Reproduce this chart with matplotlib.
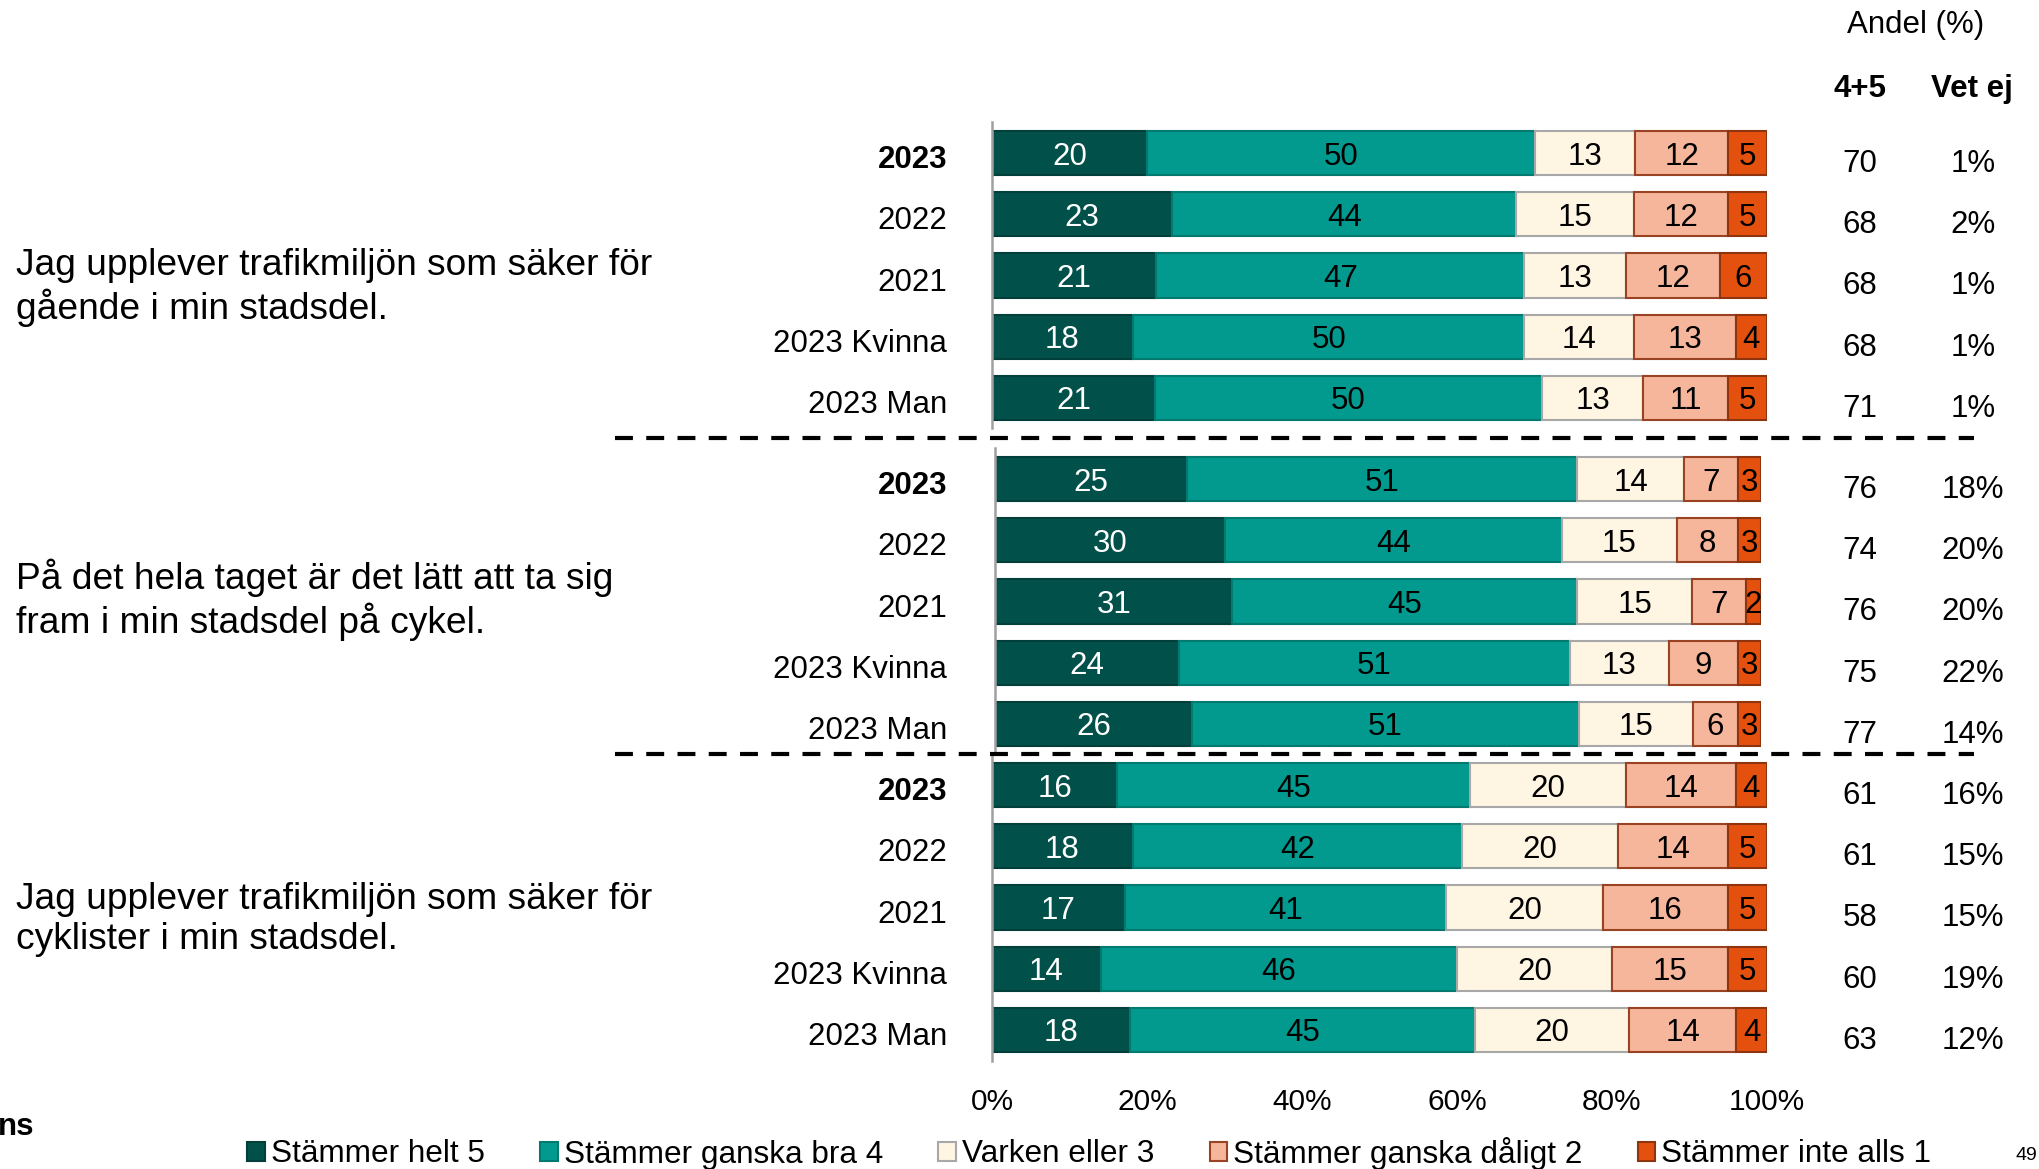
import numpy as np
import matplotlib
matplotlib.use("Agg")
import matplotlib.pyplot as plt
from matplotlib.patches import Patch
from matplotlib.lines import Line2D
from matplotlib.transforms import blended_transform_factory

plt.rcParams['font.family'] = ['Liberation Sans', 'DejaVu Sans']

# --- data ---
rows = ["2023", "2022", "2021", "2023 Kvinna", "2023 Man"]
categories = ["Stämmer helt 5", "Stämmer ganska bra 4", "Varken eller 3",
              "Stämmer ganska dåligt 2", "Stämmer inte alls 1"]
questions = ["Jag upplever trafikmiljön som säker för\ngående i min stadsdel.",
             "På det hela taget är det lätt att ta sig\nfram i min stadsdel på cykel.",
             "Jag upplever trafikmiljön som säker för\ncyklister i min stadsdel."]

gaende = [[20, 50, 13, 12, 5],
          [23, 44, 15, 12, 5],
          [21, 47, 13, 12, 6],
          [18, 50, 14, 13, 4],
          [21, 50, 13, 11, 5]]
cykel = [[25, 51, 14, 7, 3],
         [30, 44, 15, 8, 3],
         [31, 45, 15, 7, 2],
         [24, 51, 13, 9, 3],
         [26, 51, 15, 6, 3]]
cyklister = [[16, 45, 20, 14, 4],
             [18, 42, 20, 14, 5],
             [17, 41, 20, 16, 5],
             [14, 46, 20, 15, 5],
             [18, 45, 20, 14, 4]]

andel_45 = [[70, 68, 68, 68, 71],
            [76, 74, 76, 75, 77],
            [61, 61, 58, 60, 63]]
vet_ej = [[1, 2, 1, 1, 1],
          [18, 20, 20, 22, 14],
          [16, 15, 15, 19, 12]]

xticks = [0, 20, 40, 60, 80, 100]

# --- styling ---
FACE = ["#02504A", "#029A8F", "#FEF5E2", "#F6B69B", "#E4510F"]
EDGE = ["#01403A", "#027A70", "#A8A8A8", "#9A4324", "#8E3510"]
TXT = ["white", "black", "black", "black", "black"]
FS = 22.5

W, H = 2039, 1169
fig = plt.figure(figsize=(W / 100, H / 100), dpi=100)

# axes boxes in pixels: (left, right, top, bottom)
boxes = [(992, 1767, 122.5, 428.5),
         (995, 1761, 448.5, 754.5),
         (992, 1767, 754.5, 1060.5)]
q_row = [2.2, 1.97, 2.2]     # vertical position of each question text (in rows)
data = [gaende, cykel, cyklister]

for k, (sec, box) in enumerate(zip(data, boxes)):
    l, r, t, b = box
    ax = fig.add_axes([l / W, 1 - b / H, (r - l) / W, (b - t) / H])
    vals = np.array(sec, dtype=float)
    widths = vals / vals.sum(axis=1, keepdims=True) * 100   # bars are normalised to 100 %
    left = np.zeros(len(rows))
    y = np.arange(len(rows))
    for j in range(len(categories)):
        ax.barh(y, widths[:, j], left=left, height=0.72, color=FACE[j],
                edgecolor=EDGE[j], linewidth=1.5, zorder=2)
        for i in range(len(rows)):
            ax.text(left[i] + widths[i, j] / 2, y[i], f"{int(vals[i, j])}",
                    ha="center", va="center_baseline", fontsize=FS, color=TXT[j], zorder=3)
        left += widths[:, j]
    ax.set_xlim(0, 100)
    ax.set_ylim(len(rows) - 0.5, -0.5)
    ax.set_yticks([])
    for s in ("top", "right", "bottom"):
        ax.spines[s].set_visible(False)
    ax.spines["left"].set_color("#A0A0A0")
    ax.spines["left"].set_linewidth(1.8)
    if k == 2:
        ax.set_xticks(xticks)
        ax.set_xticklabels([f"{v}%" for v in xticks], fontsize=21.5)
        ax.tick_params(axis="x", length=0, pad=20)
    else:
        ax.set_xticks([])

    tr = blended_transform_factory(fig.transFigure, ax.transData)
    for i, lab in enumerate(rows):
        ax.text(947 / W, i + 0.06, lab, transform=tr, ha="right", va="center_baseline",
                fontsize=FS, fontweight="bold" if i == 0 else "normal")
        ax.text(1860 / W, i + 0.12, f"{andel_45[k][i]}", transform=tr,
                ha="center", va="center_baseline", fontsize=FS)
        ax.text(1973 / W, i + 0.12, f"{vet_ej[k][i]}%", transform=tr,
                ha="center", va="center_baseline", fontsize=FS)
    ax.text(16 / W, q_row[k], questions[k], transform=tr, ha="left", va="center",
            fontsize=26.7, linespacing=1.17)

# dashed separators
for yp in (438, 754):
    fig.add_artist(Line2D([615 / W, 1974 / W], [1 - yp / H, 1 - yp / H],
                          transform=fig.transFigure, color="black", lw=3,
                          linestyle=(0, (4.3, 3.2))))

# column headers
fig.text(1916 / W, 1 - 25 / H, "Andel (%)", ha="center", va="center", fontsize=FS)
fig.text(1860 / W, 1 - 89 / H, "4+5", ha="center", va="center", fontsize=FS, fontweight="bold")
fig.text(1972 / W, 1 - 89 / H, "Vet ej", ha="center", va="center", fontsize=FS, fontweight="bold")

# legend
handles = [Patch(facecolor=FACE[j], edgecolor=EDGE[j], linewidth=1.5) for j in range(len(categories))]
fig.legend(handles, categories, loc="center", bbox_to_anchor=(0.5343, 1 - 1153 / H),
           ncol=5, frameon=False, fontsize=22.7, handlelength=0.55, handleheight=0.55,
           handletextpad=0.2, columnspacing=1.75, borderaxespad=0, borderpad=0)

# stray page elements
fig.text(-2 / W, 1 - 1127 / H, "ns", ha="left", va="center", fontsize=FS, fontweight="bold")
fig.text(2026 / W, 1 - 1155 / H, "49", ha="center", va="center", fontsize=14)

fig.savefig("out.png", dpi=100)
